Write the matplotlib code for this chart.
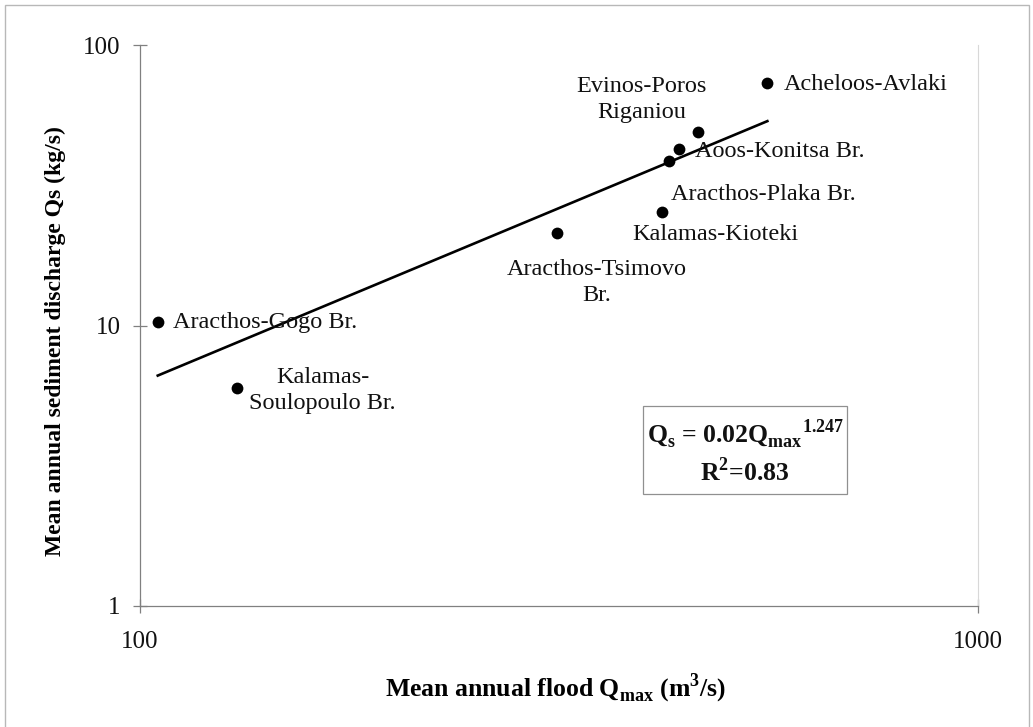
import matplotlib
matplotlib.use("Agg")
import matplotlib.pyplot as plt
from matplotlib.patches import Rectangle
from matplotlib.ticker import FixedLocator, FixedFormatter, NullLocator
import numpy as np

plt.rcParams['font.family'] = ['Liberation Serif', 'DejaVu Serif']
plt.rcParams['mathtext.fontset'] = 'custom'
plt.rcParams['mathtext.rm'] = 'Liberation Serif:bold'
plt.rcParams['mathtext.bf'] = 'Liberation Serif:bold'

# stations: mean annual flood (m3/s) vs mean annual sediment discharge (kg/s)
stations = ['Aracthos-Gogo Br.', 'Kalamas-\nSoulopoulo Br.', 'Aracthos-Tsimovo\nBr.',
            'Kalamas-Kioteki', 'Aracthos-Plaka Br.', 'Aoos-Konitsa Br.',
            'Evinos-Poros\nRiganiou', 'Acheloos-Avlaki']
q_max = [105.0, 130.4, 314.3, 419.4, 428.3, 440.2, 463.7, 560.6]
q_s = [10.3, 5.97, 21.4, 25.3, 38.7, 42.5, 49.1, 73.4]

# power fit  Qs = a * Qmax^b
fit_a = 0.02
fit_b = 1.247
fit_r2 = 0.83

x_ticks = [100, 1000]
y_ticks = [1, 10, 100]

# label placement (pixel offsets from the point, alignment)
label_pos = [
    ((15, -1), 'left'),
    ((86, -2), 'center'),
    ((40, -50), 'center'),
    ((-29, -22), 'left'),
    ((2, -34), 'left'),
    ((16, -2), 'left'),
    ((-57, 32), 'center'),
    ((16, -2), 'left'),
]

W, H = 1033, 727
fig = plt.figure(figsize=(W / 100, H / 100), dpi=100)
ax = fig.add_axes([140 / W, 1 - 606 / H, (978 - 140) / W, (606 - 45) / H])

ax.set_xscale('log')
ax.set_yscale('log')
ax.set_xlim(100, 1000)
ax.set_ylim(1, 100)

ax.scatter(q_max, q_s, s=72, color='black', zorder=3, linewidths=0)

xf = np.array([min(q_max), max(q_max)])
ax.plot(xf, fit_a * xf ** fit_b, color='black', lw=1.9, zorder=2)

for name, x, y, (off, ha) in zip(stations, q_max, q_s, label_pos):
    ax.annotate(name, (x, y), xytext=off, textcoords='offset pixels',
                ha=ha, va='center', fontsize=17.5, color='#111111',
                multialignment='center', linespacing=1.3)

# axes styling
ax.spines['top'].set_visible(False)
ax.spines['right'].set_color('#d8d8d8')
ax.spines['right'].set_linewidth(0.8)
for side in ['left', 'bottom']:
    ax.spines[side].set_color('#808080')
    ax.spines[side].set_linewidth(0.9)

ax.xaxis.set_major_locator(FixedLocator(x_ticks))
ax.xaxis.set_major_formatter(FixedFormatter([str(t) for t in x_ticks]))
ax.yaxis.set_major_locator(FixedLocator(y_ticks))
ax.yaxis.set_major_formatter(FixedFormatter([str(t) for t in y_ticks]))
ax.xaxis.set_minor_locator(NullLocator())
ax.yaxis.set_minor_locator(NullLocator())
ax.tick_params(direction='inout', length=10, width=0.9, color='#808080',
               labelsize=18, labelcolor='#111111')
ax.tick_params(axis='x', pad=13)
ax.tick_params(axis='y', pad=9)

ax.set_xlabel(r'Mean annual flood Q$_{\mathbf{max}}$ (m$^{\mathbf{3}}$/s)',
              fontsize=18.5, fontweight='bold')
ax.xaxis.set_label_coords((556 - 140) / 838, (606 - 688) / 561)
ax.xaxis.label.set_va('center')
ax.set_ylabel('Mean annual sediment discharge Qs (kg/s)',
              fontsize=17, fontweight='bold')
ax.yaxis.set_label_coords((55 - 140) / 838, (606 - 341) / 561)
ax.yaxis.label.set_va('center')

# equation box
ax.add_patch(Rectangle((0.600, 0.199), 0.244, 0.158, transform=ax.transAxes,
                       fill=False, ec='#909090', lw=0.9, zorder=4))
ax.text(0.722, 0.307, r'Q$_{\mathbf{s}}$ = %gQ$_{\mathbf{max}}$$^{\mathbf{%g}}$' % (fit_a, fit_b),
        transform=ax.transAxes, ha='center', va='center', fontsize=18.5,
        fontweight='bold', color='#111111')
ax.text(0.722, 0.240, r'R$^{\mathbf{2}}$=%g' % fit_r2,
        transform=ax.transAxes, ha='center', va='center', fontsize=18.5,
        fontweight='bold', color='#111111')

# outer chart frame
fig.patches.append(Rectangle((5 / W, -0.05), (1029 - 5) / W, 1 - 5 / H + 0.05,
                             transform=fig.transFigure, fill=False,
                             ec='#b8b8b8', lw=1.0))

fig.savefig('out.png', dpi=100)
